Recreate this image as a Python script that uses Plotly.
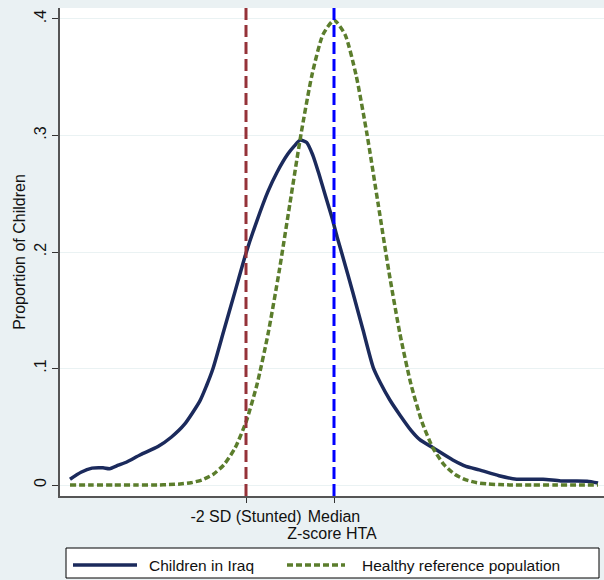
import plotly.graph_objects as go

# ---- data ----
iraq_x = [-6.0, -5.75, -5.5, -5.25, -5.1, -4.9, -4.7, -4.4, -4.0, -3.7, -3.4, -3.05,
          -2.9, -2.75, -2.5, -2.25, -2.0, -1.75, -1.5, -1.3, -1.05, -0.9, -0.77, -0.62,
          -0.48, -0.35, -0.2, -0.05, 0.07, 0.2, 0.43, 0.66, 0.89, 1.05, 1.27, 1.5,
          1.75, 1.95, 2.25, 2.7, 3.0, 3.3, 3.75, 4.15, 4.75, 5.15, 5.75, 6.0]
iraq_y = [0.005, 0.011, 0.0145, 0.0148, 0.014, 0.017, 0.020, 0.026, 0.033, 0.041, 0.052, 0.072,
          0.085, 0.100, 0.133, 0.166, 0.199, 0.227, 0.252, 0.268, 0.284, 0.291, 0.296, 0.294,
          0.283, 0.268, 0.249, 0.230, 0.213, 0.196, 0.165, 0.133, 0.101, 0.088, 0.073, 0.060,
          0.047, 0.039, 0.032, 0.0215, 0.016, 0.013, 0.008, 0.005, 0.005, 0.0035, 0.0033, 0.0017]

ref_x = [-6.0, -5.5, -5.0, -4.5, -4.0, -3.75, -3.5, -3.25, -3.0, -2.75, -2.5, -2.25,
         -2.0, -1.75, -1.5, -1.25, -1.0, -0.75, -0.5, -0.25, 0.0, 0.25, 0.5, 0.75,
         1.0, 1.25, 1.5, 1.75, 2.0, 2.25, 2.5, 2.75, 3.0, 3.25, 3.5, 3.75, 4.0,
         4.5, 5.0, 5.5, 6.0]
ref_y = [0.0, 0.0, 0.0, 0.0, 0.0001, 0.0004, 0.0009, 0.0020, 0.0044, 0.0091, 0.0175, 0.0317,
         0.0540, 0.0863, 0.1295, 0.1826, 0.2420, 0.3011, 0.3521, 0.3867, 0.3989, 0.3867, 0.3521, 0.3011,
         0.2420, 0.1826, 0.1295, 0.0863, 0.0540, 0.0317, 0.0175, 0.0091, 0.0044, 0.0020, 0.0009, 0.0004, 0.0001,
         0.0, 0.0, 0.0, 0.0]

cut_x = [-2, 0]
cut_labels = ["-2 SD (Stunted)", "Median"]
y_ticks = [0, 0.1, 0.2, 0.3, 0.4]
y_tick_labels = ["0", ".1", ".2", ".3", ".4"]
series_names = ["Children in Iraq", "Healthy reference population"]

NAVY = "#1b2a5c"
GREEN = "#5b7d2c"
MAROON = "#953239"
BLUE = "#0000ff"
BG = "#eaf1f3"
GRID = "#eaf2f3"
FONT = "Liberation Sans, Arial, sans-serif"

W, H = 604, 580
L, R, T, B = 60, 0, 8, 84
PW, PH = W - L - R, H - T - B

def px(x):
    return (x - L) / PW

def py(y):
    return (H - B - y) / PH

fig = go.Figure()
fig.add_trace(go.Scatter(x=iraq_x, y=iraq_y, mode="lines", name=series_names[0],
                         line=dict(color=NAVY, width=3.5, shape="spline", smoothing=0.6),
                         showlegend=False))
fig.add_trace(go.Scatter(x=ref_x, y=ref_y, mode="lines", name=series_names[1],
                         line=dict(color=GREEN, width=3.5, dash="6px,3px", shape="spline", smoothing=0.6),
                         showlegend=False))

ymin, ymax = -0.0094, 0.4094
for xv, col in zip(cut_x, [MAROON, BLUE]):
    fig.add_trace(go.Scatter(x=[xv, xv], y=[ymin, ymax], mode="lines",
                             line=dict(color=col, width=3, dash="12px,5px"),
                             showlegend=False, hoverinfo="skip"))

# manual legend (Stata style box)
shapes = [
    dict(type="rect", xref="paper", yref="paper", x0=px(66), x1=px(599), y0=py(578), y1=py(548),
         line=dict(color="#000000", width=1), fillcolor="white", layer="above"),
    dict(type="line", xref="paper", yref="paper", x0=px(73), x1=px(137), y0=py(565), y1=py(565),
         line=dict(color=NAVY, width=3.5)),
    dict(type="line", xref="paper", yref="paper", x0=px(287), x1=px(345), y0=py(565), y1=py(565),
         line=dict(color=GREEN, width=3.5, dash="6px,3px")),
]
annotations = [
    dict(text=series_names[0], xref="paper", yref="paper", x=px(147), y=py(565),
         xanchor="left", yanchor="middle", showarrow=False, font=dict(size=15.5, color="#111")),
    dict(text=series_names[1], xref="paper", yref="paper", x=px(360), y=py(565),
         xanchor="left", yanchor="middle", showarrow=False, font=dict(size=15.5, color="#111")),
]

fig.update_layout(
    width=W, height=H,
    margin=dict(l=L, r=R, t=T, b=B),
    paper_bgcolor=BG, plot_bgcolor="white",
    font=dict(family=FONT, size=16, color="#111"),
    shapes=shapes, annotations=annotations,
    showlegend=False,
    xaxis=dict(range=[-6.227, 6.136], tickvals=cut_x, ticktext=cut_labels,
               showgrid=False, zeroline=False, showline=True, linecolor="#555", linewidth=2,
               ticks="outside", ticklen=5, tickcolor="#333", tickwidth=1,
               title=dict(text="Z-score HTA", standoff=0, font=dict(size=16))),
    yaxis=dict(range=[ymin, ymax], tickvals=y_ticks, ticktext=y_tick_labels, tickangle=-90,
               showgrid=True, gridcolor=GRID, gridwidth=1, zeroline=False,
               showline=True, linecolor="#555", linewidth=2,
               ticks="outside", ticklen=6, tickcolor="#333", tickwidth=1,
               title=dict(text="Proportion of Children", standoff=2, font=dict(size=16))),
)

fig.write_html("out.html")
